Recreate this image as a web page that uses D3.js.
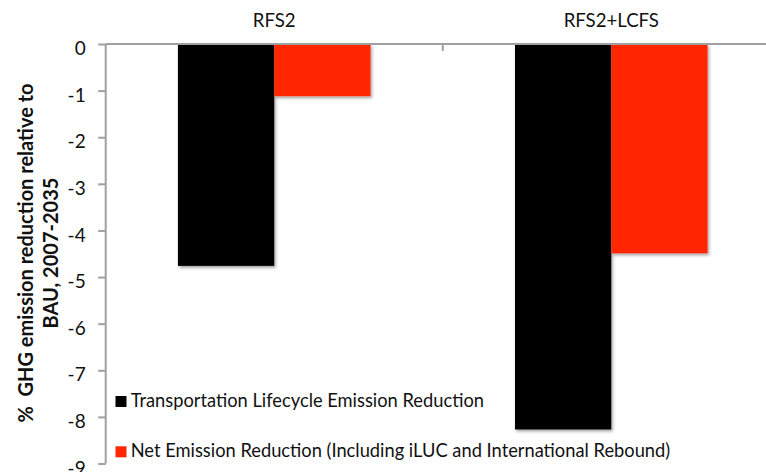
<!DOCTYPE html>
<html><head><meta charset="utf-8">
<script src="https://cdn.jsdelivr.net/npm/d3@7"></script>
<style>body{margin:0;background:#fff}</style></head>
<body><div id="chart"></div>
<script>
// data
const categories = ['RFS2', 'RFS2+LCFS'];
const seriesNames = ['Transportation Lifecycle Emission Reduction', 'Net Emission Reduction (Including iLUC and International Rebound)'];
const transportValues = [-4.76, -8.27];
const netValues = [-1.12, -4.49];
const yTicks = [0, -1, -2, -3, -4, -5, -6, -7, -8, -9];
const colors = ['#000000', '#ff2600'];

const width = 766, height = 472;
const font = 'Lato, "Open Sans", sans-serif';
const axisColor = '#a0a0a0';

const svg = d3.select('#chart').append('svg')
  .attr('width', width).attr('height', height);

const defs = svg.append('defs');
const shadow = defs.append('filter').attr('id', 'shadow')
  .attr('x', '-10%').attr('y', '-10%').attr('width', '130%').attr('height', '130%');
shadow.append('feDropShadow').attr('dx', 1.5).attr('dy', 2).attr('stdDeviation', 1.5)
  .attr('flood-color', '#000').attr('flood-opacity', 0.35);

const y = d3.scaleLinear().domain([-9, 0]).range([463.5, 44]);
const x0 = d3.scaleBand().domain(categories).range([105.7, 779.8]);
const barW = x0.bandwidth() / 3.5;
const x1 = d3.scaleBand().domain(seriesNames)
  .range([x0.bandwidth() / 2 - barW, x0.bandwidth() / 2 + barW]);

const rows = categories.map((c, i) => ({
  cat: c,
  vals: [
    {s: seriesNames[0], v: transportValues[i], c: colors[0]},
    {s: seriesNames[1], v: netValues[i], c: colors[1]}
  ]
}));

// bars
const groups = svg.append('g').selectAll('g').data(rows).join('g')
  .attr('transform', d => `translate(${x0(d.cat)},0)`);
groups.selectAll('rect').data(d => d.vals).join('rect')
  .attr('x', d => x1(d.s))
  .attr('width', x1.bandwidth())
  .attr('y', y(0))
  .attr('height', d => y(d.v) - y(0))
  .attr('fill', d => d.c)
  .attr('filter', 'url(#shadow)');

// y axis
const yAxis = svg.append('g').attr('transform', 'translate(105.7,0)')
  .call(d3.axisLeft(y).tickValues(yTicks).tickSize(7.5).tickFormat(d3.format('d')));
yAxis.select('.domain').attr('stroke', axisColor).attr('stroke-width', 2)
  .attr('d', `M0,${y(0)}V${y(-9)}`);
yAxis.selectAll('.tick line').attr('stroke', axisColor).attr('stroke-width', 2);
yAxis.selectAll('.tick text')
  .attr('x', -20).attr('dy', '0.9em').attr('y', -6.5)
  .attr('fill', '#111').attr('font-family', font).attr('font-size', 19)
  .text(d => d === 0 ? '0' : '-' + Math.abs(d));

// top category axis (zero line)
svg.append('line')
  .attr('x1', 105.7).attr('x2', width).attr('y1', y(0)).attr('y2', y(0))
  .attr('stroke', axisColor).attr('stroke-width', 2);
svg.append('g').selectAll('line').data(categories.slice(1)).join('line')
  .attr('x1', d => x0(d)).attr('x2', d => x0(d))
  .attr('y1', y(0)).attr('y2', y(0) + 7)
  .attr('stroke', axisColor).attr('stroke-width', 2);
svg.append('g').selectAll('text').data(categories).join('text')
  .attr('x', d => x0(d) + x0.bandwidth() / 2)
  .attr('y', 26.7)
  .attr('text-anchor', 'middle')
  .attr('fill', '#111').attr('font-family', font).attr('font-size', 18.6)
  .text(d => d);

// y title
const title = svg.append('g').attr('transform', 'translate(0,253) rotate(-90)')
  .attr('font-family', font).attr('font-weight', 700).attr('font-size', 20)
  .attr('fill', '#111').attr('text-anchor', 'middle');
title.append('text').attr('x', 0).attr('y', 33).style('white-space', 'pre')
  .text('%  GHG emission reduction relative to');
title.append('text').attr('x', 0).attr('y', 58).text('BAU, 2007-2035');

// legend
const legend = svg.append('g').selectAll('g').data(seriesNames).join('g')
  .attr('transform', (d, i) => `translate(115.5,${396 + i * 50.3})`);
legend.append('rect').attr('width', 11).attr('height', 11)
  .attr('fill', (d, i) => colors[i]);
legend.append('text').attr('x', 15.2).attr('y', 10.7)
  .attr('fill', '#111').attr('font-family', font).attr('font-size', 18.3)
  .text(d => d);
</script></body></html>
